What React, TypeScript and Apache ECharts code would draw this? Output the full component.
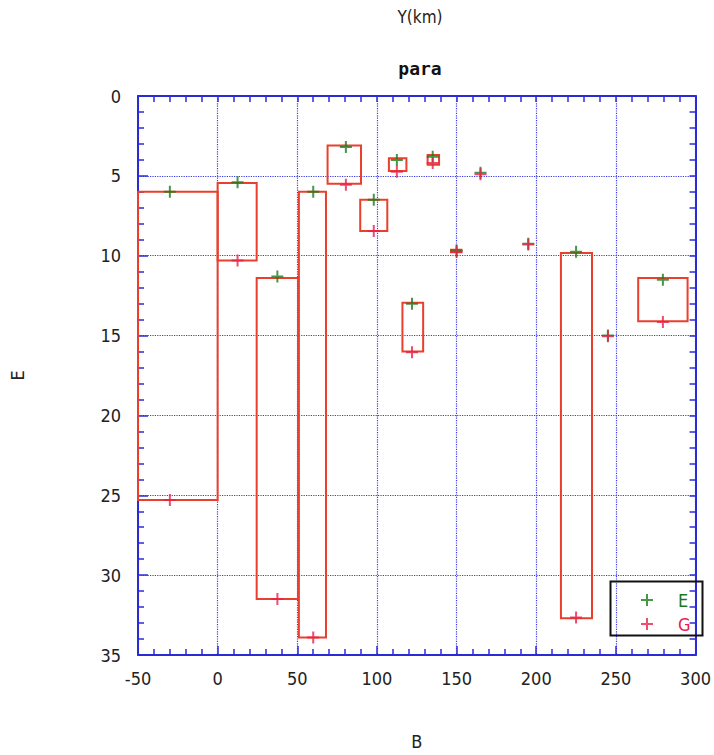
import React, { useEffect, useRef } from "react";
import * as echarts from "echarts";

// Rectangles: [xLeft, xRight, eTop, gBottom]
const boxes: number[][] = [
  [-50, 0, 6.0, 25.3],
  [0, 24.5, 5.45, 10.3],
  [24.5, 50.5, 11.4, 31.5],
  [51, 68, 6.0, 33.9],
  [69, 90, 3.1, 5.5],
  [89.5, 106.5, 6.5, 8.45],
  [107.5, 118.5, 3.9, 4.7],
  [131.8, 139, 3.7, 4.3],
  [146.5, 153, 9.62, 9.78],
  [116, 129, 12.95, 16.0],
  [215.5, 235, 9.83, 32.7],
  [264, 295, 11.4, 14.1],
];

const ePoints: number[][] = [
  [-30, 6.0], [12.5, 5.4], [37.5, 11.3], [60, 6.0], [80.5, 3.2], [98, 6.5],
  [112.5, 4.0], [135, 3.8], [165, 4.8], [150, 9.68], [195, 9.25], [122, 13.0],
  [225, 9.75], [279.5, 11.5], [245, 15.0],
];

const gPoints: number[][] = [
  [-30, 25.3], [12.5, 10.3], [37.5, 31.5], [60, 33.9], [80.5, 5.55], [98, 8.45],
  [112.5, 4.75], [135, 4.2], [165, 4.9], [150, 9.75], [195, 9.3], [122, 16.05],
  [225, 32.65], [279.5, 14.15], [245, 15.05],
];

const xTicks = { min: -50, max: 300, interval: 50 };
const yTicks = { min: 0, max: 35, interval: 5 };

const AXIS_BLUE = "#2b2bd6";
const GRID_BLUE = "#3a3ae6";
const FONT = "'Liberation Sans Narrow', 'DejaVu Sans Condensed', 'Roboto Condensed', sans-serif";
const PLUS = "path://M-1,-6H1V-1H6V1H1V6H-1V1H-6V-1H-1Z";

export default function App() {
  const ref = useRef<HTMLDivElement>(null);
  useEffect(() => {
    if (!ref.current) return;
    const chart = echarts.init(ref.current, null, { renderer: "svg" });
    const axisCommon = {
      type: "value",
      axisLine: { show: true, onZero: false, lineStyle: { color: AXIS_BLUE, width: 2 } },
      minorTick: { show: true, splitNumber: 5, length: 6, lineStyle: { color: AXIS_BLUE, width: 1.5 } },
      minorSplitLine: { show: false },
    };
    chart.setOption({
      animation: false,
      backgroundColor: "#ffffff",
      title: [
        {
          text: "Y(km)",
          left: 415,
          top: 3,
          textAlign: "center",
          textStyle: { fontFamily: FONT, fontSize: 17, fontWeight: "normal", color: "#222" },
        },
        {
          text: "para",
          left: 415,
          top: 54,
          textAlign: "center",
          textStyle: { fontFamily: "'DejaVu Sans Mono', monospace", fontSize: 18, fontWeight: "bold", color: "#111" },
        },
      ],
      grid: { left: 138, top: 96, right: 13, bottom: 98 },
      legend: {
        data: [
          { name: "E", textStyle: { color: "#1b7a1b" } },
          { name: "G", textStyle: { color: "#e8204a" } },
        ],
        orient: "vertical",
        left: 641,
        top: 591,
        itemWidth: 12,
        itemHeight: 12,
        itemGap: 6,
        padding: 0,
        textStyle: { fontFamily: FONT, fontSize: 18, padding: [0, 0, 0, 20] },
      },
      xAxis: [
        {
          ...axisCommon,
          position: "bottom",
          ...xTicks,
          name: "B",
          nameLocation: "middle",
          nameGap: 77,
          nameTextStyle: { fontFamily: FONT, fontSize: 18, color: "#222" },
          axisTick: { show: true, inside: true, length: 9, lineStyle: { color: AXIS_BLUE, width: 1.5 } },
          axisLabel: { fontFamily: FONT, fontSize: 18, color: "#222", margin: 14 },
          splitLine: { show: true, lineStyle: { color: GRID_BLUE, type: "dotted", width: 1.2 } },
        },
        {
          ...axisCommon,
          position: "top",
          ...xTicks,
          axisTick: { show: true, inside: true, length: 6, lineStyle: { color: AXIS_BLUE, width: 1.5 } },
          axisLabel: { show: false },
          splitLine: { show: false },
        },
      ],
      yAxis: [
        {
          ...axisCommon,
          position: "left",
          inverse: true,
          ...yTicks,
          name: "E",
          nameLocation: "middle",
          nameRotate: 90,
          nameGap: 112,
          nameTextStyle: { fontFamily: FONT, fontSize: 18, color: "#222" },
          axisTick: { show: true, inside: true, length: 10, lineStyle: { color: AXIS_BLUE, width: 1.5 } },
          axisLabel: { fontFamily: FONT, fontSize: 18, color: "#222", margin: 17 },
          splitLine: { show: true, lineStyle: { color: GRID_BLUE, type: "dotted", width: 1.2 } },
        },
        {
          ...axisCommon,
          position: "right",
          inverse: true,
          ...yTicks,
          axisTick: { show: true, inside: true, length: 6, lineStyle: { color: AXIS_BLUE, width: 1.5 } },
          axisLabel: { show: false },
          splitLine: { show: false },
        },
      ],
      graphic: [
        {
          type: "rect",
          left: 608,
          top: 579,
          shape: { x: 0, y: 0, width: 92, height: 54 },
          style: { fill: "none", stroke: "#111", lineWidth: 2 },
          z: 100,
        },
      ],
      series: [
        {
          type: "custom",
          name: "boxes",
          xAxisIndex: 0,
          yAxisIndex: 0,
          data: boxes,
          encode: { x: [0, 1], y: [2, 3] },
          renderItem: (params: any, api: any) => {
            const p0 = api.coord([api.value(0), api.value(2)]);
            const p1 = api.coord([api.value(1), api.value(3)]);
            return {
              type: "rect",
              shape: {
                x: Math.min(p0[0], p1[0]),
                y: Math.min(p0[1], p1[1]),
                width: Math.abs(p1[0] - p0[0]),
                height: Math.abs(p1[1] - p0[1]),
              },
              style: { fill: "none", stroke: "#ea3f2c", lineWidth: 2 },
            };
          },
          z: 2,
        },
        {
          type: "scatter",
          name: "E",
          data: ePoints,
          symbol: PLUS,
          symbolSize: 12,
          itemStyle: { color: "#1b7a1b" },
          z: 3,
        },
        {
          type: "scatter",
          name: "G",
          data: gPoints,
          symbol: PLUS,
          symbolSize: 12,
          itemStyle: { color: "#e8204a" },
          z: 4,
        },
      ],
    });
    return () => chart.dispose();
  }, []);
  return (
    <div
      ref={ref}
      style={{ position: "fixed", left: 0, top: 0, width: 714, height: 755, background: "#fff" }}
    />
  );
}
